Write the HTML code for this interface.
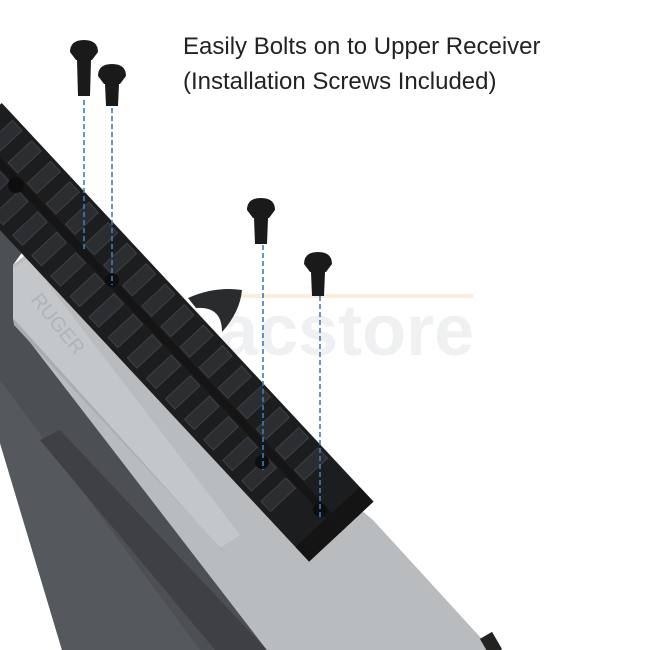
<!DOCTYPE html>
<html><head><meta charset="utf-8"><style>
html,body{margin:0;padding:0;background:#fff;}
svg{display:block}
</style></head><body>
<svg width="650" height="650" viewBox="0 0 650 650" xmlns="http://www.w3.org/2000/svg">
<rect width="650" height="650" fill="#fff"/>
<!-- watermark -->
<rect x="225" y="294" width="248" height="4" fill="#fbeedd"/>
<text x="218" y="355" font-family="Liberation Sans, sans-serif" font-weight="bold" font-size="72" fill="#eff0f1">acstore</text>
<!-- dark body -->
<polygon points="0,130 60,200 13,265 13,320 267,650 62,650 0,443" fill="#4c4f53"/>
<polygon points="0,380 200,650 62,650 0,443" fill="#55585c"/>
<polygon points="60,430 267,650 215,650 40,440" fill="#3e4044"/>
<!-- trigger piece -->
<path d="M188,298 Q215,286 242,290 Q240,312 222,332 Q222,306 196,308 Z" fill="#2a2b2d"/>
<!-- gray -->
<polygon points="13,265 40,243 373,520 492,650 267,650 13,320" fill="#b8bcbf"/>
<polygon points="13,268 28,258 240,535 220,548 13,318" fill="#c4c7ca"/>
<polygon points="13,318 220,548 228,556 14,325" fill="#a9adb0"/>
<text x="0" y="0" transform="translate(30,300) rotate(51)" font-family="Liberation Sans, sans-serif" font-size="20" fill="#b0b4b7">RUGER</text>
<rect x="484" y="634" width="14" height="20" fill="#222" transform="rotate(-30 491 644)"/>
<!-- rail -->
<g transform="translate(12,114) rotate(47)">
<rect x="-15" y="0" width="545" height="88" fill="#1c1d1f"/>
<rect x="510" y="0" width="20" height="88" fill="#141415"/>
<rect x="-15" y="38" width="545" height="8" fill="#151516"/>
<g fill="#2c2d30" stroke="#3f4043" stroke-width="1">
<rect x="5" y="4" width="14" height="32"/><rect x="33" y="4" width="14" height="32"/><rect x="61" y="4" width="14" height="32"/><rect x="89" y="4" width="14" height="32"/><rect x="117" y="4" width="14" height="32"/><rect x="145" y="4" width="14" height="32"/><rect x="173" y="4" width="14" height="32"/><rect x="201" y="4" width="14" height="32"/><rect x="229" y="4" width="14" height="32"/><rect x="257" y="4" width="14" height="32"/><rect x="285" y="4" width="14" height="32"/><rect x="313" y="4" width="14" height="32"/><rect x="341" y="4" width="14" height="32"/><rect x="369" y="4" width="14" height="32"/><rect x="397" y="4" width="14" height="32"/><rect x="425" y="4" width="14" height="32"/><rect x="453" y="4" width="14" height="32"/>
<rect x="5" y="48" width="14" height="34"/><rect x="33" y="48" width="14" height="34"/><rect x="61" y="48" width="14" height="34"/><rect x="89" y="48" width="14" height="34"/><rect x="117" y="48" width="14" height="34"/><rect x="145" y="48" width="14" height="34"/><rect x="173" y="48" width="14" height="34"/><rect x="201" y="48" width="14" height="34"/><rect x="229" y="48" width="14" height="34"/><rect x="257" y="48" width="14" height="34"/><rect x="285" y="48" width="14" height="34"/><rect x="313" y="48" width="14" height="34"/><rect x="341" y="48" width="14" height="34"/><rect x="369" y="48" width="14" height="34"/><rect x="397" y="48" width="14" height="34"/><rect x="425" y="48" width="14" height="34"/><rect x="453" y="48" width="14" height="34"/>
</g>
</g>
<!-- holes -->
<circle cx="16" cy="185" r="8" fill="#0e0e0f"/>
<circle cx="112" cy="280" r="7" fill="#0e0e0f"/>
<circle cx="262" cy="462" r="7" fill="#0e0e0f"/>
<circle cx="320" cy="510" r="7" fill="#0e0e0f"/>
<!-- dashed lines -->
<g stroke="#3c7dbf" stroke-width="1.6" stroke-dasharray="5,3">
<line x1="84" y1="100" x2="84" y2="252"/>
<line x1="112" y1="108" x2="112" y2="285"/>
<line x1="263" y1="245" x2="263" y2="470"/>
<line x1="320" y1="296" x2="320" y2="518"/>
</g>
<!-- screws -->
<g fill="#1a1a1b">
<path d="M70,52 Q70,40 84,40 Q98,40 98,52 L92,60 L91,60 L90,96 L78,96 L77,60 L76,60 Z"/>
<path d="M98,76 Q98,64 112,64 Q126,64 126,76 L120,84 L119,84 L118,106 L106,106 L105,84 L104,84 Z"/>
<path d="M247,210 Q247,198 261,198 Q275,198 275,210 L269,218 L268,218 L267,244 L255,244 L254,218 L253,218 Z"/>
<path d="M304,264 Q304,252 318,252 Q332,252 332,264 L326,272 L325,272 L324,296 L312,296 L311,272 L310,272 Z"/>
</g>
<text x="183" y="54" font-family="Liberation Sans, sans-serif" font-size="24" fill="#222">Easily Bolts on to Upper Receiver</text>
<text x="183" y="89" font-family="Liberation Sans, sans-serif" font-size="24" fill="#222">(Installation Screws Included)</text>
</svg>
</body></html>
